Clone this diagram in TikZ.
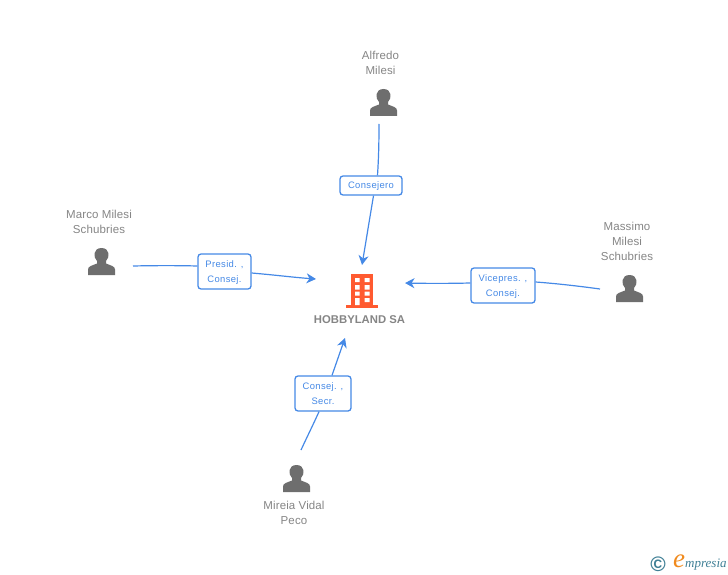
\documentclass[tikz,border=0pt]{standalone}
\usepackage{fontspec}
\setmainfont{Liberation Sans}
\newfontfamily\logofont{Liberation Serif}
\usetikzlibrary{arrows.meta}
\definecolor{edgeblue}{HTML}{4589E6}
\definecolor{namegrey}{HTML}{858585}
\definecolor{icongrey}{HTML}{6E6E6E}
\definecolor{buildorange}{HTML}{FF5A30}
\definecolor{logoteal}{HTML}{3F7F95}
\definecolor{logoorange}{HTML}{F08A1D}
\tikzset{
  x=1pt,y=-1pt,
  personname/.style={text=namegrey,font=\fontsize{11.5}{15}\selectfont\addfontfeatures{LetterSpace=1},align=center,inner sep=0pt},
  rolebox/.style={draw=edgeblue,line width=1.3pt,rounded corners=3pt,fill=white,inner sep=0pt,anchor=center},
  roletext/.style={text=edgeblue,font=\fontsize{9.4}{15}\selectfont\addfontfeatures{LetterSpace=4},align=center,inner sep=0pt},
  link/.style={draw=edgeblue,line width=1.2pt},
  linkarrow/.style={link,-{Stealth[length=9.5pt,width=10pt,inset=3pt]}},
  personicon/.pic={
    \fill[icongrey] (-13.5,13.5) -- (-13.5,8) .. controls (-13.5,4.5) and (-9,4) .. (-4.5,2)
      -- (-4.5,-0.5) .. controls (-8.5,-4) and (-8.5,-13.5) .. (0,-13.5)
      .. controls (8.5,-13.5) and (8.5,-4) .. (4.5,-0.5) -- (4.5,2)
      .. controls (9,4) and (13.5,4.5) .. (13.5,8) -- (13.5,13.5) -- cycle;
  }
}
\begin{document}
\begin{tikzpicture}
\useasboundingbox (0,0) rectangle (728,575);
% icons
\pic at (383.5,102.5) {personicon};
\pic at (101.5,261.5) {personicon};
\pic at (629.5,288.5) {personicon};
\pic at (296.5,478.5) {personicon};
% building
\fill[buildorange] (351,274) rectangle (373,305.5);
\fill[buildorange] (346,305) rectangle (378,308);
\fill[white] (355,278) rectangle (359.5,282) (364.5,278) rectangle (369.5,282)
  (355,285) rectangle (359.5,289.5) (364.5,285) rectangle (369.5,289.5)
  (355,291.5) rectangle (359.5,295.5) (364.5,291.5) rectangle (369.5,295.5)
  (355,298) rectangle (359.5,305) (364.5,298) rectangle (369.5,302);
% names
\node[personname] (alfredo) at (380.5,62.5) {Alfredo\\Milesi};
\node[personname] (marco) at (99,221.5) {Marco Milesi\\Schubries};
\node[personname] (massimo) at (627,241) {Massimo\\Milesi\\Schubries};
\node[personname] (mireia) at (294,513) {Mireia Vidal\\Peco};
\node[text=namegrey,font=\bfseries\fontsize{11.3}{14}\selectfont,inner sep=0pt] (hobby) at (359.5,320) {HOBBYLAND SA};
% role boxes
\node[rolebox,minimum width=62pt,minimum height=19pt] (rconsejero) at (371,185.5) {};
\node[rolebox,minimum width=53pt,minimum height=35pt] (rpresid) at (224.5,271.5) {};
\node[rolebox,minimum width=64pt,minimum height=35pt] (rvice) at (503,285.5) {};
\node[rolebox,minimum width=56pt,minimum height=35pt] (rsecr) at (323,393.5) {};
\node[roletext] (tconsejero) at ([yshift=-1pt]rconsejero.center) {Consejero};
\node[roletext] (tpresid) at ([yshift=-1.5pt]rpresid.center) {Presid. ,\\Consej.};
\node[roletext] (tvice) at ([yshift=-1.5pt]rvice.center) {Vicepres. ,\\Consej.};
\node[roletext] (tsecr) at ([yshift=-0.5pt]rsecr.center) {Consej. ,\\Secr.};
% connector ends
\coordinate (a0) at (379,124);
\coordinate (a1) at (362,265);
\coordinate (m0) at (133,266);
\coordinate (m1) at (316,279);
\coordinate (v0) at (600,289);
\coordinate (v1) at (405,283);
\coordinate (s0) at (301,450);
\coordinate (s1) at (345,338);
% connectors
\draw[link] (a0) .. controls (379,145) and (378.5,160) .. (rconsejero.north -| 377.5,0);
\draw[linkarrow] (rconsejero.south -| 373.5,0) -- (a1);
\draw[link] (m0) .. controls (155,265.5) and (178,265.5) .. (rpresid.west |- 0,266);
\draw[linkarrow] (rpresid.east |- 0,273) .. controls (275,275) and (295,277.5) .. (m1);
\draw[link] (v0) .. controls (578,286) and (556,283.5) .. (rvice.east |- 0,282);
\draw[linkarrow] (rvice.west |- 0,283) .. controls (450,283.5) and (428,283.5) .. (v1);
\draw[link] (s0) .. controls (307,437) and (313,425) .. (rsecr.south -| 319,0);
\draw[linkarrow] (rsecr.north -| 332,0) -- (s1);
% logo
\node[text=logoteal,font=\bfseries\fontsize{21}{21}\selectfont,inner sep=0pt] (copyr) at (658,564) {©};
\node[text=logoorange,font=\logofont\itshape\fontsize{27}{27}\selectfont,inner sep=0pt] (loge) at (679,561) {e};
\node[text=logoteal,font=\logofont\itshape\fontsize{13}{14}\selectfont,inner sep=0pt,anchor=west] (logt) at (685,565) {mpresia};
\end{tikzpicture}
\end{document}
